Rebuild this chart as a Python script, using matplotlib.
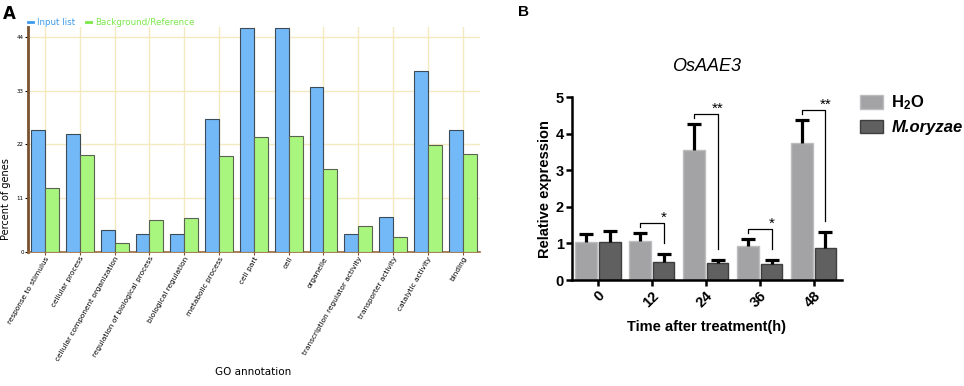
import numpy as np
import matplotlib
matplotlib.use('Agg')
import matplotlib.pyplot as plt
from matplotlib.lines import Line2D
from matplotlib.patches import Patch

plt.rcParams['mathtext.fontset'] = 'custom'
plt.rcParams['mathtext.bf'] = 'Liberation Sans:bold'
plt.rcParams['mathtext.rm'] = 'Liberation Sans'

# Panel A data: GO annotation percentages
go_terms = ['response to stimulus', 'cellular process', 'cellular component organization',
            'regulation of biological process', 'biological regulation', 'metabolic process',
            'cell part', 'cell', 'organelle', 'transcription regulator activity',
            'transporter activity', 'catalytic activity', 'binding']
input_list = [24.9, 24.1, 4.5, 3.7, 3.7, 27.3, 45.9, 45.9, 33.8, 3.7, 7.0, 37.0, 24.9]
background = [13.1, 19.8, 1.8, 6.5, 6.9, 19.6, 23.5, 23.7, 16.9, 5.2, 3.0, 21.9, 20.0]
go_yticks = [0, 11, 22, 33, 44]

# Panel B data: OsAAE3 relative expression
time_points = ['0', '12', '24', '36', '48']
h2o_mean = [1.04, 1.07, 3.56, 0.92, 3.76]
h2o_err = [0.22, 0.23, 0.72, 0.21, 0.62]
mo_mean = [1.03, 0.48, 0.47, 0.44, 0.88]
mo_err = [0.32, 0.23, 0.08, 0.10, 0.44]
sig_marks = ['', '*', '**', '*', '**']

BLUE = '#74B9F7'
GREEN = '#A9F67F'
LIGHT = '#A3A3A6'
DARK = '#606060'


def upper_errorbars(ax, xs, means, errs):
    """Error bars drawn only upward, T shaped, no cap at the bar top"""
    tops = np.array(means) + np.array(errs)
    ax.vlines(xs, means, tops, color='black', lw=2.3, zorder=3)
    ax.plot(xs, tops, ls='none', marker='_', ms=10, mew=2.3, color='black', zorder=3)


fig = plt.figure(figsize=(9.64, 3.86), dpi=100)

# ---------------- panel A ----------------
axA = fig.add_axes([0.029, 0.3484, 0.469, 0.5824])
x = np.arange(len(go_terms))
w = 0.4
axA.bar(x - w / 2, input_list, w, color=BLUE, edgecolor='#3D4A57', linewidth=0.8, zorder=3)
axA.bar(x + w / 2, background, w, color=GREEN, edgecolor='#5A6352', linewidth=0.8, zorder=3)
axA.set_xlim(-0.49, 12.5)
axA.set_ylim(0, 46.2)
axA.set_yticks(go_yticks)
axA.set_xticks(x)
axA.set_xticklabels(go_terms, rotation=60, ha='right', rotation_mode='anchor', fontsize=5.3)
axA.tick_params(axis='y', labelsize=4, length=2, pad=1)
axA.tick_params(axis='x', length=2, pad=1, color='#7A5230')
axA.grid(color='#F3EAC0', linewidth=1)
axA.set_axisbelow(True)
for s in ['top', 'right']:
    axA.spines[s].set_visible(False)
axA.spines['left'].set_color('#7A5230')
axA.spines['left'].set_linewidth(2)
axA.spines['bottom'].set_color('#9A6A3A')
axA.spines['bottom'].set_linewidth(1.2)
axA.set_ylabel('Percent of genes', fontsize=7)
axA.yaxis.set_label_coords(-0.038, 0.234)
axA.set_xlabel('GO annotation', fontsize=7.5)
axA.xaxis.set_label_coords(0.499, -0.514)

handles = [Line2D([], [], color='#3D9BEA', lw=2), Line2D([], [], color='#7BE84A', lw=2)]
axA.legend(handles, ['Input list', 'Background/Reference'], loc='lower left',
           bbox_to_anchor=(0.0, 1.0), ncol=2, frameon=False, fontsize=6.3,
           handlelength=0.6, handletextpad=0.4, columnspacing=1.3,
           labelcolor='linecolor', borderaxespad=0, borderpad=0)

fig.text(0.003, 0.988, 'A', fontsize=12, fontweight='bold', va='top', ha='left')

# ---------------- panel B ----------------
bfont = 'Liberation Sans'
axB = fig.add_axes([0.5934, 0.2746, 0.2797, 0.4733])
xb = np.arange(len(time_points))
bw = 0.4
off = 0.22
axB.bar(xb - off, h2o_mean, bw, color=LIGHT, edgecolor='#BDBDC0', linewidth=1, zorder=2)
axB.bar(xb + off, mo_mean, bw, color=DARK, edgecolor='#3E3E3E', linewidth=1, zorder=2)
upper_errorbars(axB, xb - off, h2o_mean, h2o_err)
upper_errorbars(axB, xb + off, mo_mean, mo_err)

for i, mark in enumerate(sig_marks):
    if not mark:
        continue
    xl, xr = xb[i] - off, xb[i] + off
    y_left = h2o_mean[i] + h2o_err[i] + 0.15
    top = y_left + 0.12
    y_right = mo_mean[i] + mo_err[i] + 0.3
    axB.plot([xl, xl, xr, xr], [y_left, top, top, y_right], color='black', lw=0.9)
    axB.text(xr, top - 0.05, mark, ha='center', va='bottom', fontsize=11, family=bfont)

axB.set_xlim(-0.48, 4.52)
axB.set_ylim(0, 5)
axB.set_yticks(range(6))
axB.set_xticks(xb)
axB.set_xticklabels(time_points, rotation=45, ha='right', rotation_mode='anchor')
for lab in axB.get_xticklabels() + axB.get_yticklabels():
    lab.set_fontfamily(bfont)
    lab.set_fontweight('bold')
    lab.set_fontsize(10.5)
axB.tick_params(width=1.8, length=4, pad=2)
for s in ['top', 'right']:
    axB.spines[s].set_visible(False)
for s in ['left', 'bottom']:
    axB.spines[s].set_linewidth(1.8)
axB.set_ylabel('Relative expression', fontsize=10.5, fontweight='bold', family=bfont)
axB.yaxis.set_label_coords(-0.074, 0.5)
axB.set_xlabel('Time after treatment(h)', fontsize=10.5, fontweight='bold', family=bfont)
axB.xaxis.set_label_coords(0.5, -0.219)
axB.text(0.5, 1.166, 'OsAAE3', transform=axB.transAxes, ha='center', va='center',
         fontsize=13, style='italic', family=bfont)

leg_handles = [Patch(facecolor=LIGHT, edgecolor='#BDBDC0'), Patch(facecolor=DARK, edgecolor='#3E3E3E')]
leg = axB.legend(leg_handles, [r'$\mathbf{H_2O}$', 'M.oryzae'], loc='upper left',
                 bbox_to_anchor=(1.067, 1.02), frameon=False, borderaxespad=0, borderpad=0,
                 handlelength=1.4, handleheight=0.85, handletextpad=0.5, labelspacing=0.45,
                 prop=dict(family=bfont, weight='bold', size=12))
leg.get_texts()[1].set_style('italic')

fig.text(0.537, 0.988, 'B', fontsize=11, fontweight='bold', va='top', ha='left', family=bfont)

fig.savefig('out.png', dpi=100)
